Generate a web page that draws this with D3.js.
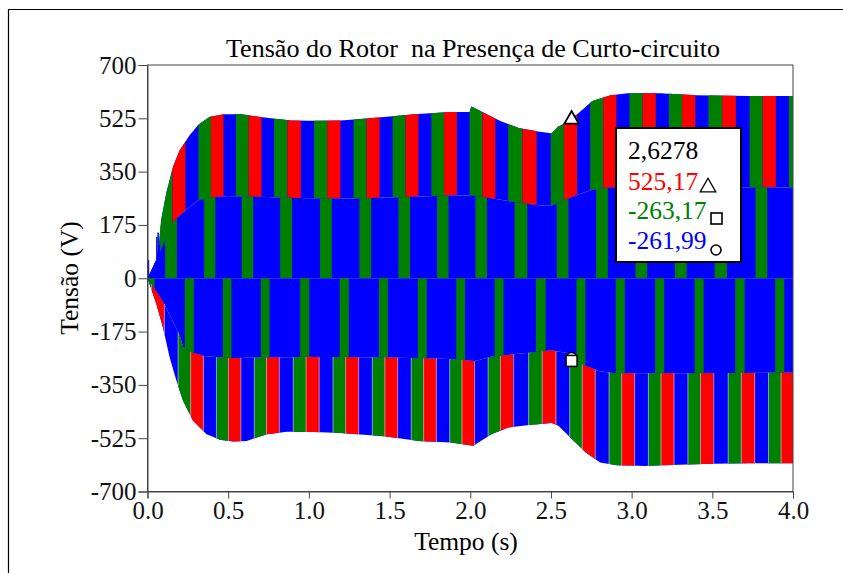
<!DOCTYPE html>
<html>
<head>
<meta charset="utf-8">
<script src="https://cdn.jsdelivr.net/npm/d3@7"></script>
<style>
  html, body { margin: 0; padding: 0; background: #fff; }
  svg { display: block; font-family: "Liberation Serif", "Times New Roman", serif; }
</style>
</head>
<body>
<svg id="chart" width="843" height="573"></svg>
<script>
// ---- rotor voltage envelopes (V) over time (s) ----
const upperT = [0, 0.02, 0.05, 0.07, 0.085, 0.116, 0.158, 0.2, 0.262, 0.313, 0.386, 0.47, 0.573, 0.677, 0.78, 0.885, 1.03, 1.196, 1.3, 1.466, 1.674, 1.88, 1.996, 2.006, 2.09, 2.19, 2.3, 2.42, 2.505, 2.546, 2.61, 2.67, 2.754, 2.87, 2.976, 3.19, 3.4, 3.72, 4.0];
const upperV = [0, 15, 40, 110, 192, 279, 366, 421, 470, 503, 530, 538, 539, 531, 524, 518, 517, 518, 522, 529, 539, 546, 546, 564, 542, 515, 493, 482, 476, 498, 515, 542, 581, 601, 607, 607, 601, 598, 598];

const innerUpT = [0, 0.085, 0.158, 0.2, 0.262, 0.313, 0.386, 0.5, 1.0, 1.3, 1.67, 1.88, 2.0, 2.09, 2.19, 2.3, 2.42, 2.505, 2.6, 2.67, 2.754, 2.87, 3.0, 3.5, 4.0];
const innerUpV = [0, 95, 185, 205, 235, 255, 265, 270, 263, 262, 268, 272, 272, 265, 258, 248, 240, 238, 260, 275, 290, 298, 300, 299, 298];

const innerLoT = [0, 0.1, 0.2, 0.22, 0.28, 0.35, 0.5, 1.0, 1.5, 1.88, 2.03, 2.13, 2.3, 2.5, 2.6, 2.7, 2.8, 2.9, 3.2, 4.0];
const innerLoV = [0, -80, -188, -226, -245, -255, -262, -258, -260, -265, -272, -258, -248, -237, -245, -285, -305, -312, -312, -310];

const lowerT = [0, 0.054, 0.095, 0.137, 0.179, 0.22, 0.282, 0.366, 0.449, 0.531, 0.615, 0.74, 0.864, 1.03, 1.196, 1.3, 1.466, 1.674, 1.88, 2.02, 2.048, 2.13, 2.235, 2.38, 2.505, 2.546, 2.63, 2.712, 2.805, 2.91, 3.08, 3.296, 3.51, 3.72, 4.0];
const lowerV = [0, -83, -160, -259, -336, -402, -468, -512, -530, -536, -534, -512, -504, -505, -508, -512, -519, -534, -539, -550, -540, -512, -490, -481, -475, -484, -528, -570, -605, -614, -616, -612, -609, -607, -607];

// start of each phase-rotation cycle (s): phase sequence green -> red -> blue on the upper band
const cycleStart = [-0.17, 0.073, 0.316, 0.548, 0.785, 1.032, 1.277, 1.519, 1.759, 1.996, 2.235, 2.499, 2.743, 2.987, 3.231, 3.476, 3.731, 3.975];

// which phase shows in each band, as fractions of a cycle
const topEdges    = [0, 0.333, 0.667, 1];
const topColors   = ["green", "red", "blue"];
const midUpEdges  = [0.15, 0.45];
const midUpColors = ["green"];
const midLoEdges  = [0.65, 0.88];
const midLoColors = ["green"];
const botEdges    = [0.13, 0.48, 0.8, 1.13];
const botColors   = ["blue", "green", "red"];

// short transients right after start
const spikeT = [0.006, 0.045, 0.058, 0.066, 0.074];
const spikeV = [60, 50, 135, 150, 110];

// cursor readout
const cursorT = 2.6278;
const cursorR = 525.17, cursorG = -263.17, cursorB = -261.99;

// axis ticks
const xTicks = [0, 0.5, 1.0, 1.5, 2.0, 2.5, 3.0, 3.5, 4.0];
const yTicks = [700, 525, 350, 175, 0, -175, -350, -525, -700];

const phaseColor = { red: "#ff0000", green: "#008000", blue: "#0000ff" };

// ---- layout ----
const svg = d3.select("#chart");
const X0 = 147.5, X1 = 793, Y0 = 65, Y1 = 491.5;
const x = d3.scaleLinear().domain([0, 4]).range([X0, X1]);
const y = d3.scaleLinear().domain([-700, 700]).range([Y1, Y0]);

// outer frame
svg.append("path").attr("d", `M8.5,573 V9.5 H843`).attr("fill", "none").attr("stroke", "#000").attr("stroke-width", 1.2);

const defs = svg.append("defs");
defs.append("clipPath").attr("id", "plotClip")
  .append("rect").attr("x", X0).attr("y", Y0).attr("width", X1 - X0).attr("height", Y1 - Y0);

const upperS   = d3.scaleLinear().domain(upperT).range(upperV).clamp(true);
const innerUpS = d3.scaleLinear().domain(innerUpT).range(innerUpV).clamp(true);
const innerLoS = d3.scaleLinear().domain(innerLoT).range(innerLoV).clamp(true);
const lowerS   = d3.scaleLinear().domain(lowerT).range(lowerV).clamp(true);

const knots = Array.from(new Set([...upperT, ...innerUpT, ...innerLoT, ...lowerT])).sort((a, b) => a - b);

const bands = [
  { id: "top",   lo: innerUpS, hi: upperS,   edges: topEdges,   colors: topColors },
  { id: "midUp", lo: () => 0,  hi: innerUpS, edges: midUpEdges, colors: midUpColors },
  { id: "midLo", lo: innerLoS, hi: () => 0,  edges: midLoEdges, colors: midLoColors },
  { id: "bot",   lo: lowerS,   hi: innerLoS, edges: botEdges,   colors: botColors }
];

function cyclePeriod(k) {
  return k < cycleStart.length - 1 ? cycleStart[k + 1] - cycleStart[k] : cycleStart[k] - cycleStart[k - 1];
}

// stripes of one band for a given phase colour
function stripesFor(band, color) {
  const out = [];
  cycleStart.forEach((c, k) => {
    const p = cyclePeriod(k);
    for (let i = 0; i < band.colors.length; i++) {
      if (band.colors[i] !== color) continue;
      out.push([c + band.edges[i] * p, c + band.edges[i + 1] * p]);
    }
  });
  return out;
}

const plot = svg.append("g").attr("clip-path", "url(#plotClip)");

bands.forEach(band => {
  const area = d3.area()
    .x(t => x(t))
    .y0(t => y(band.lo(t)))
    .y1(t => y(band.hi(t)));
  // base fill: blue phase
  plot.append("path").attr("d", area(knots)).attr("fill", phaseColor.blue);
  ["green", "red"].forEach(col => {
    const st = stripesFor(band, col);
    if (!st.length) return;
    const cid = `clip-${band.id}-${col}`;
    defs.append("clipPath").attr("id", cid)
      .selectAll("rect").data(st).join("rect")
      .attr("x", d => x(d[0])).attr("width", d => Math.max(0, x(d[1]) - x(d[0])))
      .attr("y", Y0).attr("height", Y1 - Y0);
    plot.append("path").attr("d", area(knots)).attr("fill", phaseColor[col]).attr("clip-path", `url(#${cid})`);
  });
});

// light seams between the phase stripes of the lower band
const bot = bands[3];
const seams = [];
cycleStart.forEach((c, k) => {
  const p = cyclePeriod(k);
  bot.edges.slice(0, 3).forEach(e => seams.push(c + e * p));
});
plot.selectAll("line.seam").data(seams).join("line")
  .attr("class", "seam")
  .attr("x1", d => x(d)).attr("x2", d => x(d))
  .attr("y1", d => y(innerLoS(d))).attr("y2", d => y(lowerS(d)))
  .attr("stroke", "#fff").attr("stroke-width", 0.9).attr("stroke-opacity", 0.55);

// start transients
plot.selectAll("line.spike").data(spikeT).join("line")
  .attr("class", "spike")
  .attr("x1", d => x(d)).attr("x2", d => x(d))
  .attr("y1", y(0)).attr("y2", (d, i) => y(spikeV[i]))
  .attr("stroke", phaseColor.blue).attr("stroke-width", 1.5);

// plot box
svg.append("rect").attr("x", X0).attr("y", Y0).attr("width", X1 - X0).attr("height", Y1 - Y0)
  .attr("fill", "none").attr("stroke", "#444").attr("stroke-width", 1);

// axes (plain hyphen for negative numbers)
const yAxis = d3.axisLeft(y).tickValues(yTicks).tickFormat(d => String(d)).tickSize(9).tickPadding(2);
const gy = svg.append("g").attr("transform", `translate(${X0},0)`).call(yAxis);
const xAxis = d3.axisBottom(x).tickValues(xTicks).tickFormat(d => d.toFixed(1)).tickSize(7).tickPadding(3);
const gx = svg.append("g").attr("transform", `translate(0,${Y1})`).call(xAxis);
[gy, gx].forEach(g => {
  g.select(".domain").attr("stroke", "#444");
  g.selectAll(".tick line").attr("stroke", "#444");
  g.selectAll(".tick text").attr("font-family", "Liberation Serif, serif").attr("font-size", 25).attr("fill", "#111");
});

// titles
svg.append("text").attr("x", 473).attr("y", 57).attr("text-anchor", "middle")
  .attr("xml:space", "preserve").style("white-space", "pre")
  .attr("font-size", 26).attr("textLength", 494).attr("lengthAdjust", "spacingAndGlyphs")
  .text("Tensão do Rotor  na Presença de Curto-circuito");
svg.append("text").attr("x", 466).attr("y", 550).attr("text-anchor", "middle")
  .attr("font-size", 25.5).text("Tempo (s)");
svg.append("text").attr("transform", "translate(78,278) rotate(-90)").attr("text-anchor", "middle")
  .attr("font-size", 25.5).text("Tensão (V)");

// cursor markers
function tri(cx, cy, s) {
  return `M${cx},${cy - s * 0.6} L${cx + s * 0.6},${cy + s * 0.45} L${cx - s * 0.6},${cy + s * 0.45} Z`;
}
svg.append("circle").attr("cx", x(cursorT)).attr("cy", y(cursorB)).attr("r", 5.5)
  .attr("fill", "#fff").attr("stroke", "#000").attr("stroke-width", 1.5);
svg.append("rect").attr("x", x(cursorT) - 5.5).attr("y", y(cursorG) - 3).attr("width", 11).attr("height", 11)
  .attr("fill", "#fff").attr("stroke", "#000").attr("stroke-width", 1.5);
svg.append("path").attr("d", tri(x(cursorT), y(cursorR), 12))
  .attr("fill", "#fff").attr("stroke", "#000").attr("stroke-width", 1.8);

// readout box
const box = svg.append("g");
box.append("rect").attr("x", 616).attr("y", 128).attr("width", 125).attr("height", 134)
  .attr("fill", "#fff").attr("stroke", "#000").attr("stroke-width", 2);
const fmt = v => v.toFixed(2).replace(".", ",");
const rows = [
  { text: cursorT.toFixed(4).replace(".", ","), color: "#000", yb: 159 },
  { text: fmt(cursorR), color: phaseColor.red, yb: 190 },
  { text: fmt(cursorG), color: phaseColor.green, yb: 219 },
  { text: fmt(cursorB), color: phaseColor.blue, yb: 249 }
];
box.selectAll("text").data(rows).join("text")
  .attr("x", 628).attr("y", d => d.yb).attr("font-size", 25.5)
  .attr("fill", d => d.color).text(d => d.text);
box.append("path").attr("d", tri(708, 186, 13)).attr("fill", "#fff").attr("stroke", "#000").attr("stroke-width", 1.3);
box.append("rect").attr("x", 711).attr("y", 213).attr("width", 11).attr("height", 11)
  .attr("fill", "#fff").attr("stroke", "#000").attr("stroke-width", 1.6);
box.append("circle").attr("cx", 716).attr("cy", 250).attr("r", 5)
  .attr("fill", "#fff").attr("stroke", "#000").attr("stroke-width", 1.6);
</script>
</body>
</html>
